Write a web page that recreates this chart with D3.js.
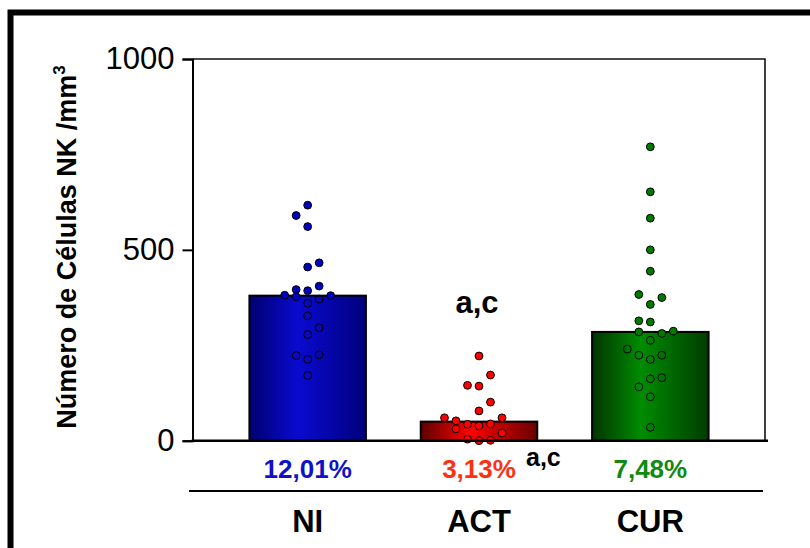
<!DOCTYPE html>
<html>
<head>
<meta charset="utf-8">
<script src="https://cdn.jsdelivr.net/npm/d3@7"></script>
<style>
  html, body { margin: 0; padding: 0; background: #fff; }
  svg { display: block; }
  text { font-family: "Liberation Sans", Arial, sans-serif; }
</style>
</head>
<body>
<svg id="chart" width="810" height="548"></svg>
<script>
// Groups and their bar heights (cells / mm3)
const groups = ["NI", "ACT", "CUR"];
const barValues = [380, 50, 285];
const percentLabels = ["12,01%", "3,13%", "7,48%"];
const yTicks = [0, 500, 1000];

// Individual subjects per group, with the dot-plot column each one sits in
const niValues  = [617, 590, 561, 466, 455, 405, 396, 393, 381, 380, 377, 371, 360, 327, 296, 278, 225, 223, 213, 171];
const niCols    = [0, -1, 0, 1, 0, 1, -1, 0, -2, 2, -1, 1, 0, 0, 1, 0, 1, -1, 0, 0];
const actValues = [222, 172, 145, 143, 101, 78, 60, 52, 60, 43, 39, 44, 31, 20, 4, 0, 1];
const actCols   = [0, 1, -1, 0, 1, 0, -3, -2, 2, -1, 0, 1, -2, 2, -1, 0, 1];
const curValues = [770, 652, 583, 500, 444, 383, 375, 357, 314, 311, 285, 281, 287, 263, 240, 224, 213, 224, 162, 165, 141, 115, 35];
const curCols   = [0, 0, 0, 0, 0, -1, 1, 0, -1, 0, -1, 1, 2, 0, -2, -1, 0, 1, 0, 1, -1, 0, 0];

const pointSets = [
  { values: niValues,  cols: niCols },
  { values: actValues, cols: actCols },
  { values: curValues, cols: curCols }
];

const svg = d3.select("#chart");

// Outer frame
svg.append("rect")
  .attr("x", 10.5).attr("y", 12.5)
  .attr("width", 840).attr("height", 580)
  .attr("fill", "none").attr("stroke", "#000").attr("stroke-width", 6);

const plot = { left: 192.5, right: 765, top: 59, bottom: 440.7 };

const y = d3.scaleLinear().domain([0, 1000]).range([plot.bottom, plot.top]);
const x = d3.scaleBand().domain(groups).range([222, 736]).paddingInner(0.32).paddingOuter(0.16);
const colX = d3.scaleLinear().domain([-1, 1]).range([-11.5, 11.5]);

// Bar gradients: dark edges, bright band left of centre
const defs = svg.append("defs");
const gradStops = [
  ["#000070", "#0a0ad0", "#00007c"],
  ["#5a0000", "#ff0000", "#6a0000"],
  ["#003400", "#008c00", "#003c00"]
];
groups.forEach((g, i) => {
  const lg = defs.append("linearGradient").attr("id", "grad" + g)
    .attr("x1", "0%").attr("x2", "100%").attr("y1", "0%").attr("y2", "0%");
  lg.append("stop").attr("offset", "0%").attr("stop-color", gradStops[i][0]);
  lg.append("stop").attr("offset", "42%").attr("stop-color", gradStops[i][1]);
  lg.append("stop").attr("offset", "100%").attr("stop-color", gradStops[i][2]);
});

// Plot frame (top and right)
svg.append("path")
  .attr("d", `M${plot.left},${plot.top}H${plot.right}V${plot.bottom}`)
  .attr("fill", "none").attr("stroke", "#111").attr("stroke-width", 1.6);

// Bars
svg.selectAll("rect.bar").data(groups).join("rect")
  .attr("class", "bar")
  .attr("x", g => x(g))
  .attr("width", x.bandwidth())
  .attr("y", (g, i) => y(barValues[i]))
  .attr("height", (g, i) => y(0) - y(barValues[i]))
  .attr("fill", g => `url(#grad${g})`)
  .attr("stroke", "#000").attr("stroke-width", 2);

// Individual points: filled above the bar, open inside it (ACT always filled)
const dotColors = ["#0000c0", "#ff0000", "#007a00"];
groups.forEach((g, i) => {
  const set = pointSets[i];
  const cx = x(g) + x.bandwidth() / 2;
  const data = set.values.map((v, k) => ({ v, c: set.cols[k] }));
  svg.append("g").selectAll("circle").data(data).join("circle")
    .attr("cx", d => cx + colX(d.c))
    .attr("cy", d => y(d.v))
    .attr("r", 3.9)
    .attr("fill", d => (g === "ACT" || d.v >= barValues[i] - 8) ? dotColors[i] : "none")
    .attr("stroke", "#000").attr("stroke-width", 1);
});

// Y axis
const yAxis = d3.axisLeft(y).tickValues(yTicks).tickSize(10).tickPadding(8).tickFormat(d3.format("d"));
const ya = svg.append("g").attr("transform", `translate(${plot.left},0)`).call(yAxis);
ya.select(".domain").attr("stroke", "#000").attr("stroke-width", 2);
ya.selectAll(".tick line").attr("stroke", "#000").attr("stroke-width", 2);
ya.selectAll(".tick text")
  .attr("font-size", 31).attr("fill", "#000")
  .attr("font-family", "Liberation Sans, Arial, sans-serif");

// Baseline
svg.append("line")
  .attr("x1", plot.left - 1).attr("x2", 768)
  .attr("y1", plot.bottom).attr("y2", plot.bottom)
  .attr("stroke", "#000").attr("stroke-width", 2.5);

// Y title
svg.append("text")
  .attr("transform", `translate(76,247) rotate(-90)`)
  .attr("text-anchor", "middle")
  .attr("font-size", 27).attr("font-weight", "bold")
  .text("Número de Células NK /mm")
  .append("tspan").attr("dy", -11).attr("font-size", 17).text("3");

// Significance letters
svg.append("text")
  .attr("x", x("ACT") + x.bandwidth() / 2 - 2).attr("y", 313)
  .attr("text-anchor", "middle")
  .attr("font-size", 31).attr("font-weight", "bold")
  .text("a,c");

// Percentages under bars
const pctColors = ["#1010c8", "#ff3010", "#108a10"];
svg.selectAll("text.pct").data(groups).join("text")
  .attr("class", "pct")
  .attr("x", g => x(g) + x.bandwidth() / 2)
  .attr("y", 478)
  .attr("text-anchor", "middle")
  .attr("font-size", 26).attr("font-weight", "bold")
  .attr("fill", (g, i) => pctColors[i])
  .text((g, i) => percentLabels[i]);

svg.append("text")
  .attr("x", 526).attr("y", 466)
  .attr("font-size", 25).attr("font-weight", "bold")
  .text("a,c");

// Separator and category axis
svg.append("line")
  .attr("x1", 189).attr("x2", 763)
  .attr("y1", 491).attr("y2", 491)
  .attr("stroke", "#000").attr("stroke-width", 2);

svg.selectAll("text.cat").data(groups).join("text")
  .attr("class", "cat")
  .attr("x", g => x(g) + x.bandwidth() / 2)
  .attr("y", 532)
  .attr("text-anchor", "middle")
  .attr("font-size", 31).attr("font-weight", "bold")
  .text(g => g);
</script>
</body>
</html>
